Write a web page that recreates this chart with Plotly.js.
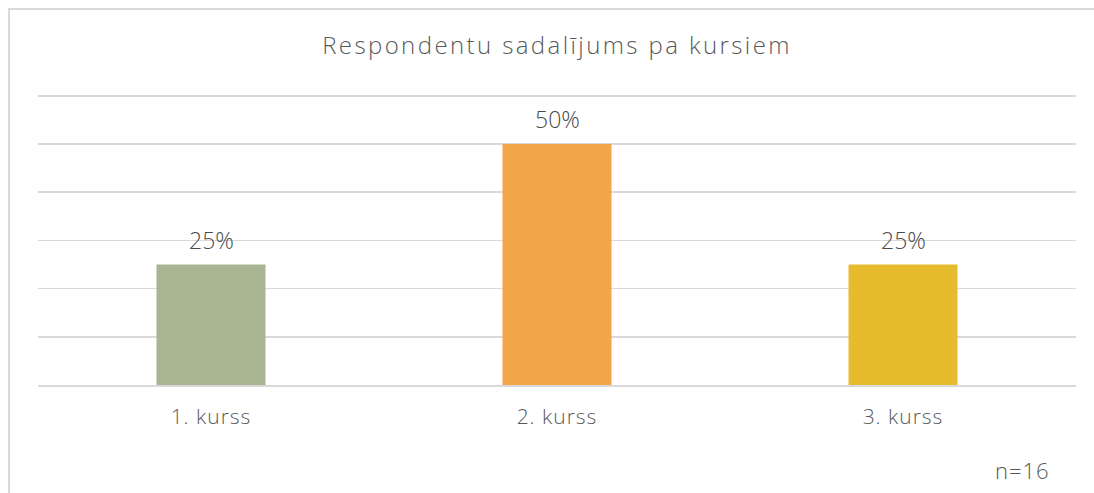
<!DOCTYPE html>
<html>
<head>
<meta charset="utf-8">
<script src="https://cdn.plot.ly/plotly-3.0.1.min.js"></script>
<style>
html,body{margin:0;padding:0;background:#fff;}
#chart{width:1094px;height:493px;}
#chart .gtitle{letter-spacing:2.4px;}
#chart .xtick text{letter-spacing:1px;}
#chart .annotation.note text{letter-spacing:1px;}
</style>
</head>
<body>
<div id="chart"></div>
<script>
const categories = ["1. kurss", "2. kurss", "3. kurss"];
const values = [25, 50, 25];
const labels = ["25%", "50%", "25%"];
const colors = ["#A7B592", "#F2A649", "#E6BB2E"];
const titleText = "Respondentu sadalījums pa kursiem";
const noteText = "n=16";

const font = "'Open Sans', sans-serif";
const txt = "#595959";

const trace = {
  type: "bar",
  x: categories,
  y: values,
  marker: {color: colors},
  hoverinfo: "none"
};

const annotations = categories.map((c, i) => ({
  x: c, y: values[i], xref: "x", yref: "y",
  text: labels[i], showarrow: false,
  yanchor: "bottom", yshift: 7,
  font: {family: font, size: 23, color: "#4a4a4a", weight: 300}
}));
annotations.push({
  x: 0.948, y: -0.289, xref: "paper", yref: "paper",
  text: noteText, showarrow: false, xanchor: "center", yanchor: "middle",
  font: {family: font, size: 22, color: txt, weight: 300}
});

const layout = {
  width: 1094, height: 493,
  margin: {l: 38, r: 18, t: 91, b: 108},
  paper_bgcolor: "#fff", plot_bgcolor: "#fff",
  showlegend: false,
  bargap: 0.685,
  title: {
    text: titleText, xref: "paper", x: 0.5, xanchor: "center",
    yref: "container", y: 0.9077, yanchor: "middle",
    font: {family: font, size: 24, color: txt, weight: 300}
  },
  xaxis: {
    showgrid: false, zeroline: false, showline: true,
    linecolor: "#D9D9D9", linewidth: 1.5,
    ticks: "", ticklabelstandoff: 12,
    tickfont: {family: font, size: 21, color: txt, weight: 300}
  },
  yaxis: {
    range: [0, 61], tickvals: [0, 10, 20, 30, 40, 50, 60], showticklabels: false,
    showgrid: true, gridcolor: "#D9D9D9", gridwidth: 1.5,
    zeroline: false, showline: false, fixedrange: true
  },
  annotations: annotations,
  shapes: [{
    type: "rect", xref: "paper", yref: "paper",
    x0: -0.0279, x1: 1.2, y0: -0.6, y1: 1.279,
    line: {color: "#D9D9D9", width: 2}, fillcolor: "rgba(0,0,0,0)", layer: "below"
  }]
};

Plotly.newPlot("chart", [trace], layout, {displayModeBar: false, staticPlot: true}).then(() => {
  const ann = document.querySelectorAll("#chart .annotation");
  if (ann.length) ann[ann.length - 1].classList.add("note");
});
</script>
</body>
</html>
